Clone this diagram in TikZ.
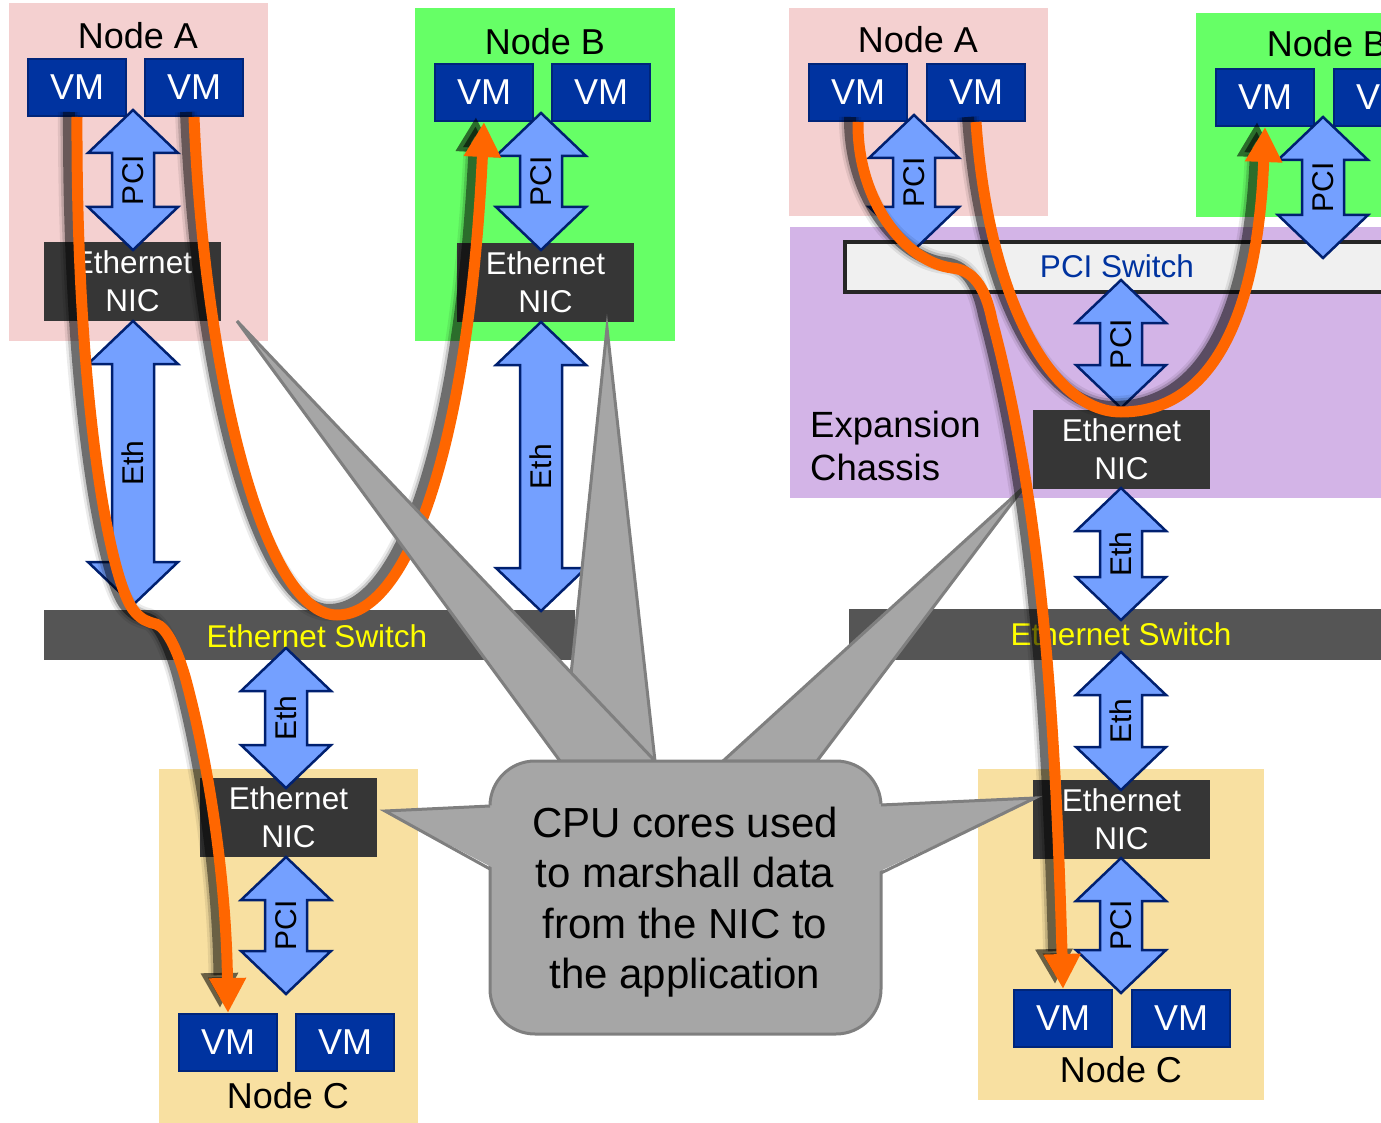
\documentclass[tikz,border=0pt]{standalone}
\usepackage{fontspec}
\setmainfont{Liberation Sans}
\usetikzlibrary{arrows.meta}
\definecolor{pinkbg}{HTML}{F4D0D0}
\definecolor{greenbg}{HTML}{66FF66}
\definecolor{tanbg}{HTML}{F8E0A1}
\definecolor{lavbg}{HTML}{D3B4E7}
\definecolor{vmblue}{HTML}{0033A0}
\definecolor{vmedge}{HTML}{00257A}
\definecolor{nicgray}{HTML}{363636}
\definecolor{bargray}{HTML}{555555}
\definecolor{swyellow}{HTML}{FFFF00}
\definecolor{arrfill}{HTML}{74A0FF}
\definecolor{arredge}{HTML}{002070}
\definecolor{calgray}{HTML}{A6A6A6}
\definecolor{caledge}{HTML}{7F7F7F}
\definecolor{flowor}{HTML}{FF6600}
\definecolor{pcisw}{HTML}{F0F0F0}
\definecolor{pciswedge}{HTML}{262626}
\tikzset{
 region/.style={inner sep=0, outer sep=0, anchor=north west},
 vm/.style={draw=vmedge, fill=vmblue, line width=2, inner sep=0, minimum width=98, minimum height=57, anchor=north west, text=white, font=\fontsize{36}{40}\selectfont},
 nic/.style={fill=nicgray, inner sep=0, outer sep=0, minimum width=177, minimum height=79, anchor=north west, text=white, align=center, font=\fontsize{31.5}{38}\selectfont},
 bar/.style={fill=bargray, inner sep=0, outer sep=0, minimum height=50, anchor=north west},
 swtext/.style={text=swyellow, anchor=base, inner sep=0, font=\fontsize{31.5}{38}\selectfont},
 title/.style={anchor=base, inner sep=0, font=\fontsize{36}{40}\selectfont},
 dblar/.style={fill=arrfill, draw=arredge, line width=2.5, line join=miter},
 arrlbl/.style={rotate=90, inner sep=0, font=\fontsize{30}{36}\selectfont},
 callout/.style={fill=calgray, draw=caledge, line width=3, line join=miter},
 flow/.style={draw=flowor, line width=11, -{Triangle[width=35pt,length=35pt]}},
 shd/.style={draw=black, -{Triangle[width=35pt,length=35pt]}},
}
% double arrow: x, ytop, ybottom, label, name
\newcommand\dbl[5]{%
  \draw[dblar] (#1,#2) -- ++(45,43) -- ++(-24,0) -- (#1+21,#3-43) -- ++(24,0) -- (#1,#3)
     -- ++(-45,-43) -- ++(24,0) -- (#1-21,#2+43) -- ++(-24,0) -- cycle;
  \node[arrlbl] (#5) at (#1,{(#2+#3)/2}) {#4};}
\newcommand\flowpath[1]{%
  \begin{scope}[transform canvas={shift={(-8,-5)}}]
    \draw[shd, line width=22, opacity=0.08] #1;
    \draw[shd, line width=17, opacity=0.15] #1;
    \draw[shd, line width=12, opacity=0.45] #1;
  \end{scope}
  \draw[flow] #1;}
\begin{document}
\begin{tikzpicture}[x=1pt,y=-1pt]
\useasboundingbox (0,0) rectangle (1381,1123);
\clip (0,0) rectangle (1381,1123);
% ---------- region backgrounds
\node[region, fill=pinkbg, minimum width=259, minimum height=338] (LregA) at (9,3) {};
\node[region, fill=greenbg, minimum width=260, minimum height=333] (LregB) at (415,8) {};
\node[region, fill=tanbg, minimum width=259, minimum height=354] (LregC) at (159,769) {};
\node[region, fill=pinkbg, minimum width=259, minimum height=208] (RregA) at (789,8) {};
\node[region, fill=greenbg, minimum width=270, minimum height=204] (RregB) at (1196,13) {};
\node[region, fill=lavbg, minimum width=600, minimum height=271] (Rchassis) at (790,227) {};
\node[region, fill=tanbg, minimum width=286, minimum height=331] (RregC) at (978,769) {};
% ---------- titles
\node[title] (LtA) at (138,49) {Node A};
\node[title] (LtB) at (545,55) {Node B};
\node[title] (LtC) at (288,1108) {Node C};
\node[title] (RtA) at (918,53) {Node A};
\node[title] (RtB) at (1327,57) {Node B};
\node[title] (RtC) at (1121,1082) {Node C};
\node[inner sep=0, anchor=west, align=left, font=\fontsize{36.5}{43}\selectfont] (Rexp) at (810,445.5) {Expansion\\Chassis};
% ---------- PCI switch
\node[region, fill=pcisw, draw=pciswedge, line width=4, minimum width=600, minimum height=50] (Rpcisw) at (845,242) {};
\node[anchor=base, inner sep=0, text=vmblue, font=\fontsize{31.5}{38}\selectfont] (Rpcitext) at (1117,278) {PCI Switch};
% ---------- NICs
\node[nic] (LnicA) at (44,242) {Ethernet\\NIC};
\node[nic] (LnicB) at (457,243) {Ethernet\\NIC};
\node[nic] (LnicC) at (200,778) {Ethernet\\NIC};
\node[nic] (RnicX) at (1033,410) {Ethernet\\NIC};
\node[nic] (RnicC) at (1033,780) {Ethernet\\NIC};
% ---------- switch bars
\node[bar, minimum width=531] (Lsw) at (44,610) {};
\node[swtext] (Lswt) at (317,647) {Ethernet Switch};
\node[bar, minimum width=560, minimum height=51] (Rsw) at (849,609) {};
\node[swtext] (Rswt) at (1121,645) {Ethernet Switch};
% ---------- VMs
\node[vm] (LvA1) at (27,58) {VM};
\node[vm] (LvA2) at (144,58) {VM};
\node[vm] (LvB1) at (434,63) {VM};
\node[vm] (LvB2) at (551,63) {VM};
\node[vm] (LvC1) at (178,1013) {VM};
\node[vm] (LvC2) at (295,1013) {VM};
\node[vm] (RvA1) at (808,63) {VM};
\node[vm] (RvA2) at (926,63) {VM};
\node[vm] (RvB1) at (1215,68) {VM};
\node[vm] (RvB2) at (1333,68) {VM};
\node[vm] (RvC1) at (1013,989) {VM};
\node[vm] (RvC2) at (1131,989) {VM};
% ---------- double arrows
\dbl{133}{110}{250}{PCI}{LpA}
\dbl{133}{321}{605}{Eth}{LeA}
\dbl{541}{113}{250}{PCI}{LpB}
\dbl{541}{322}{611}{Eth}{LeB}
\dbl{286}{648}{788}{Eth}{LeC}
\dbl{286}{857}{994}{PCI}{LpC}
\dbl{914}{115}{250}{PCI}{RpA}
\dbl{1323}{117}{258}{PCI}{RpB}
\dbl{1121}{280}{408}{PCI}{RpX}
\dbl{1121}{488}{620}{Eth}{ReX}
\dbl{1121}{652}{790}{Eth}{ReC}
\dbl{1121}{858}{993}{PCI}{RpC}
% ---------- left data paths
\flowpath{(LvA1.south) .. controls (76,400) and (110,585) .. (135,612) .. controls (142,620) and (148,622) .. (156,624) .. controls (166,627) and (177,648) .. (186,680) .. controls (210,770) and (226,880) .. (LvC1.north)}
\flowpath{(LvA2.south) .. controls (205,380) and (265,615) .. (337,615) .. controls (415,615) and (470,420) .. (LvB1.south)}
% ---------- callout
\path[callout] (607,328) -- (562,761) -- (655,761) -- cycle;
\path[callout] (237,321) -- (560,761) -- (655,761) -- cycle;
\path[callout] (1024,487) -- (723,761) -- (817,761) -- cycle;
\node[region, callout, rounded corners=45, minimum width=391, minimum height=273] (callbody) at (490,761) {};
\fill[calgray] (385,811) -- (497,805) -- (497,870) -- cycle;
\draw[caledge, line width=3, line join=miter] (490,806) -- (385,811) -- (490,869);
\fill[calgray] (1035,798) -- (874,804) -- (874,874) -- cycle;
\draw[caledge, line width=3, line join=miter] (881,805) -- (1035,798) -- (881,873);
\node[align=center, inner sep=0, font=\fontsize{42}{50.5}\selectfont] (calltext) at (685,902) {CPU cores used\\to marshall data\\from the NIC to\\the application};
% ---------- right data paths
\flowpath{(RvA1.south) .. controls (857,200) and (905,262) .. (952,268) .. controls (972,270) and (985,285) .. (992,320) .. controls (1040,500) and (1055,700) .. (RvC1.north)}
\flowpath{(RvA2.south) .. controls (988,295) and (1050,412) .. (1121,412) .. controls (1215,412) and (1258,310) .. (RvB1.south)}
\end{tikzpicture}
\end{document}
